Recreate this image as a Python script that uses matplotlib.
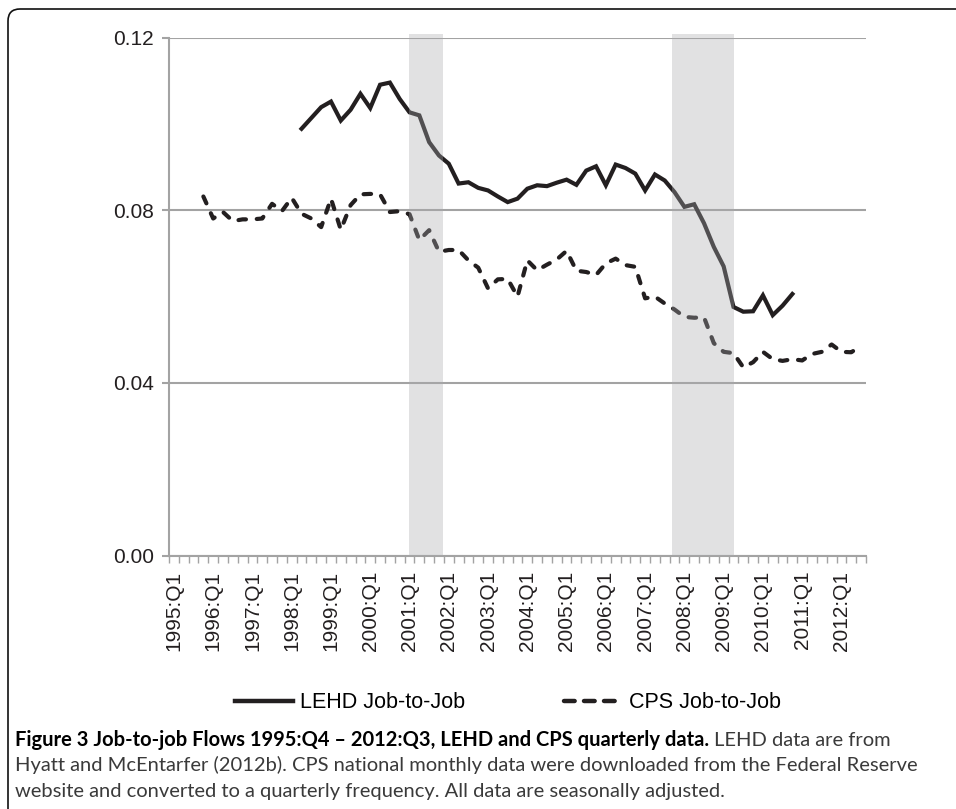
import numpy as np
import matplotlib
matplotlib.use("Agg")
import matplotlib.pyplot as plt
from matplotlib.lines import Line2D
from matplotlib.patches import FancyBboxPatch
from matplotlib.transforms import IdentityTransform

# quarters 1995:Q1 .. 2012:Q3
quarters = ["%d:Q%d" % (1995 + k // 4, k % 4 + 1) for k in range(71)]

# LEHD job-to-job rate, 1998:Q2 .. 2010:Q4
lehd_start = "1998:Q2"
lehd = [0.0989, 0.1014, 0.1039, 0.1052, 0.1008, 0.1033, 0.1070, 0.1037,
        0.1091, 0.1096, 0.1058, 0.1027, 0.1020, 0.0958, 0.0927, 0.0908,
        0.0862, 0.0865, 0.0852, 0.0846, 0.0832, 0.0819, 0.0827, 0.0850,
        0.0858, 0.0856, 0.0864, 0.0871, 0.0859, 0.0892, 0.0902, 0.0858,
        0.0906, 0.0898, 0.0885, 0.0846, 0.0883, 0.0869, 0.0842, 0.0808,
        0.0814, 0.0770, 0.0715, 0.0670, 0.0576, 0.0565, 0.0566, 0.0603,
        0.0557, 0.0579, 0.0606]

# CPS job-to-job rate, 1995:Q4 .. 2012:Q3
cps_start = "1995:Q4"
cps = [0.0832, 0.0781, 0.0796, 0.0775, 0.0779, 0.0779, 0.0781, 0.0815,
       0.0798, 0.0829, 0.0792, 0.0781, 0.0761, 0.0827, 0.0755, 0.0812,
       0.0837, 0.0838, 0.0837, 0.0796, 0.0798, 0.0791, 0.0731, 0.0754,
       0.0704, 0.0708, 0.0708, 0.0684, 0.0667, 0.0619, 0.0640, 0.0641,
       0.0600, 0.0684, 0.0661, 0.0674, 0.0686, 0.0706, 0.0660, 0.0657,
       0.0650, 0.0677, 0.0688, 0.0673, 0.0669, 0.0596, 0.0600, 0.0584,
       0.0570, 0.0553, 0.0551, 0.0552, 0.0492, 0.0472, 0.0469, 0.0436,
       0.0448, 0.0472, 0.0455, 0.0451, 0.0455, 0.0452, 0.0467, 0.0472,
       0.0489, 0.0472, 0.0471, 0.0486]

# recessions (in fractional years)
rec_start = [2001.11, 2007.80]
rec_end = [2001.98, 2009.40]

yticks = [0.00, 0.04, 0.08, 0.12]

ink = "#231f20"
grey = "#a3a3a3"

fig = plt.figure(figsize=(9.56, 8.09), dpi=100)
ax = fig.add_axes([169 / 956, 1 - 555.5 / 809, 697 / 956, 517.8 / 809])

x_lehd = np.arange(len(lehd)) + quarters.index(lehd_start)
x_cps = np.arange(len(cps)) + quarters.index(cps_start)

ax.plot(x_lehd, lehd, color=ink, lw=3.0, solid_joinstyle="miter", zorder=3)
ax.plot(x_cps, cps, color=ink, lw=3.0, ls=(0, (1.8, 2.6)),
        dash_capstyle="round", zorder=3)

for s, e in zip(rec_start, rec_end):
    ax.axvspan((s - 1995) * 4 - 0.5, (e - 1995) * 4 - 0.5, ymin=0, ymax=1.008,
               color="#a9aaae", alpha=0.35, lw=0, zorder=4, clip_on=False)

ax.set_xlim(-0.5, 70.5)
ax.set_ylim(0, 0.12)
ax.set_yticks(yticks)
ax.set_yticklabels(["%.2f" % v for v in yticks])
ax.yaxis.grid(True, color=grey, lw=1.5)
ax.set_axisbelow(True)

ax.set_xticks(np.arange(0, 71, 4))
ax.set_xticklabels([quarters[k] for k in range(0, 71, 4)], rotation=90,
                   ha="center", va="top")
ax.set_xticks(np.arange(-0.5, 71, 1), minor=True)
ax.tick_params(axis="x", which="major", length=0, pad=11)
ax.tick_params(axis="x", which="minor", length=5, width=1, color=grey)
ax.tick_params(axis="y", length=5, width=1.5, color=grey, pad=6)
ax.tick_params(labelsize=15, labelcolor=ink)
for lab in ax.get_xticklabels() + ax.get_yticklabels():
    lab.set_family(["Liberation Sans", "DejaVu Sans"])

for side in ["top", "right"]:
    ax.spines[side].set_visible(False)
for side in ["left", "bottom"]:
    ax.spines[side].set_color(grey)
    ax.spines[side].set_linewidth(1.5)

handles = [Line2D([], [], color=ink, lw=3.2),
           Line2D([], [], color=ink, lw=3.2, ls=(0, (2.4, 2.1)), dash_capstyle="round")]
fig.legend(handles, ["LEHD Job-to-Job", "CPS Job-to-Job"], loc="center",
           bbox_to_anchor=(508 / 956, 1 - 703 / 809), ncol=2, frameon=False,
           handlelength=2.7, handletextpad=0.3, columnspacing=4.6,
           prop={"family": ["Liberation Sans", "DejaVu Sans"], "size": 15.5})

# outer frame with rounded top-left corner
frame = FancyBboxPatch((8, -60), 1100, 809 - 9 + 60,
                       boxstyle="round,pad=0,rounding_size=12",
                       transform=IdentityTransform(), fill=False,
                       ec="#111111", lw=1.2)
fig.add_artist(frame)

cap_font = ["Lato", "DejaVu Sans"]
line2 = "Hyatt and McEntarfer (2012b). CPS national monthly data were downloaded from the Federal Reserve"
# size the caption so the second line spans about the same width as in the figure
probe = fig.text(0, 0, line2, family=cap_font, size=16)
fig.canvas.draw()
cap_size = 16 * 910 / probe.get_window_extent().width
probe.remove()

bold = fig.text(15 / 956, 1 - 746 / 809,
                "Figure 3 Job-to-job Flows 1995:Q4 \u2013 2012:Q3, LEHD and CPS quarterly data.",
                family=cap_font, size=cap_size, weight="bold", color="black",
                va="baseline")
fig.canvas.draw()
bb = bold.get_window_extent()
fig.text(bb.x1 / fig.bbox.width + 5 / 956, 1 - 746 / 809, "LEHD data are from",
         family=cap_font, size=cap_size, color="#3a3a3a", va="baseline")
fig.text(15 / 956, 1 - 771 / 809, line2,
         family=cap_font, size=cap_size, color="#3a3a3a", va="baseline")
fig.text(15 / 956, 1 - 797 / 809,
         "website and converted to a quarterly frequency. All data are seasonally adjusted.",
         family=cap_font, size=cap_size, color="#3a3a3a", va="baseline")

fig.savefig("out.png", dpi=100)
